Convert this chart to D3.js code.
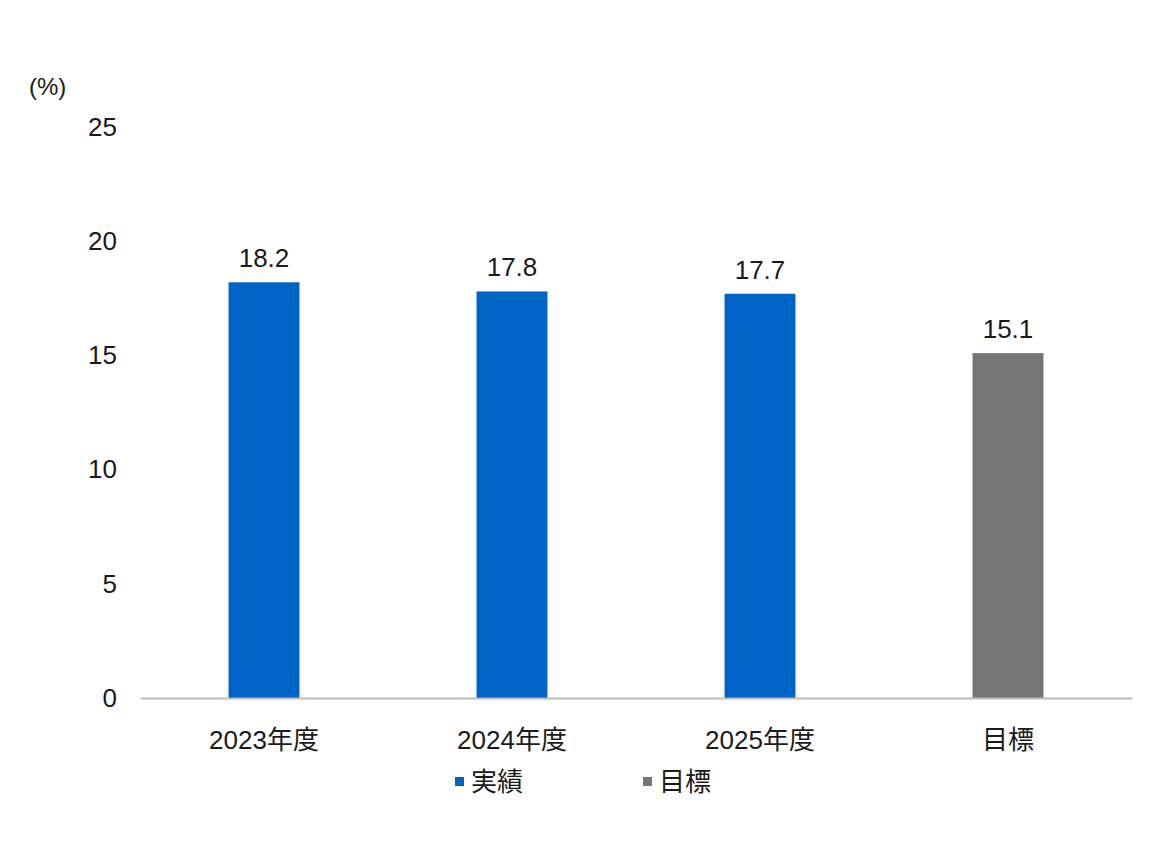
<!DOCTYPE html>
<html>
<head>
<meta charset="utf-8">
<script src="https://cdn.jsdelivr.net/npm/d3@7"></script>
<style>
  body { margin: 0; background: #fff; }
  svg text { font-family: "Liberation Sans", Arial, "Noto Sans CJK JP", sans-serif; fill: #1a1a1a; }
</style>
</head>
<body>
<svg id="chart" width="1170" height="846"></svg>
<script>
// data
const categories = ["2023年度", "2024年度", "2025年度", "目標"];
const values = [18.2, 17.8, 17.7, 15.1];
const seriesOf = ["実績", "実績", "実績", "目標"];
const legendLabels = ["実績", "目標"];
const yTicks = [0, 5, 10, 15, 20, 25];

const COLOURS = { "実績": "#0063c6", "目標": "#767676" };
const FONTSIZE = 26;

const width = 1170;
const height = 846;
const margin = { top: 127, right: 38, bottom: 148, left: 140 };

const svg = d3.select("#chart");

const x = d3.scaleBand()
    .domain(categories)
    .range([margin.left, width - margin.right])
    .paddingInner(0.714)
    .paddingOuter(0.357);

const y = d3.scaleLinear()
    .domain([0, 25])
    .range([height - margin.bottom, margin.top]);

// y tick labels (no axis line)
svg.append("g")
    .attr("class", "y-axis")
    .attr("transform", `translate(${margin.left - 23},0)`)
    .call(d3.axisLeft(y).tickValues(yTicks).tickSize(0).tickPadding(0))
    .call(g => g.select(".domain").remove())
    .selectAll("text")
        .attr("font-size", FONTSIZE)
        .attr("fill", "#1a1a1a")
        .style("font-family", "'Liberation Sans', Arial, sans-serif");

// unit label
svg.append("text")
    .attr("x", 29)
    .attr("y", 95)
    .attr("font-size", 24)
    .text("(%)");

// bars
svg.append("g").attr("class", "bars")
    .selectAll("rect")
    .data(values)
    .join("rect")
        .attr("x", (d, i) => x(categories[i]))
        .attr("y", d => y(d))
        .attr("width", x.bandwidth())
        .attr("height", d => y(0) - y(d))
        .attr("fill", (d, i) => COLOURS[seriesOf[i]]);

// value labels
svg.append("g").attr("class", "labels")
    .selectAll("text")
    .data(values)
    .join("text")
        .attr("x", (d, i) => x(categories[i]) + x.bandwidth() / 2)
        .attr("y", d => y(d) - 15)
        .attr("text-anchor", "middle")
        .attr("font-size", FONTSIZE)
        .text(d => d.toFixed(1));

// x axis
svg.append("g")
    .attr("class", "x-axis")
    .attr("transform", `translate(0,${y(0)})`)
    .call(d3.axisBottom(x).tickSize(0).tickPadding(33))
    .call(g => g.select(".domain").attr("stroke", "#bcbcbc").attr("stroke-width", 2))
    .selectAll("text")
        .attr("font-size", FONTSIZE)
        .attr("fill", "#1a1a1a")
        .style("font-family", "'Liberation Sans', Arial, 'Noto Sans CJK JP', sans-serif");

// legend
const legendX = d3.scalePoint()
    .domain(legendLabels)
    .range([455, 643]);

const legendG = svg.append("g").attr("class", "legend")
    .selectAll("g")
    .data(legendLabels)
    .join("g")
        .attr("transform", d => `translate(${legendX(d)},781)`);

legendG.append("rect")
    .attr("x", 0)
    .attr("y", -4)
    .attr("width", 9)
    .attr("height", 9)
    .attr("fill", d => COLOURS[d]);

legendG.append("text")
    .attr("x", 16)
    .attr("y", 10)
    .attr("font-size", FONTSIZE)
    .text(d => d);
</script>
</body>
</html>
